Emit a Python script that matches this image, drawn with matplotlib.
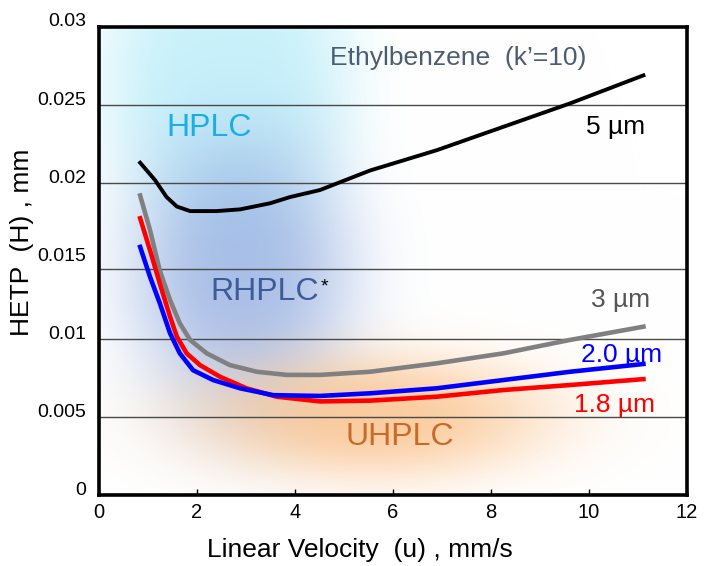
import numpy as np
import matplotlib.pyplot as plt
import matplotlib.transforms as mtransforms

plt.rcParams['font.family'] = ['Liberation Sans', 'DejaVu Sans']

# HETP curves, linear velocity (mm/s) vs plate height (mm)
u_5um = [0.84, 1.14, 1.38, 1.59, 1.86, 2.4, 2.88, 3.49, 3.9, 4.51, 5.53, 6.89, 8.25, 9.61, 11.11]
h_5um = [0.0213, 0.0202, 0.0191, 0.01849, 0.0182, 0.0182, 0.01831, 0.0187, 0.0191,
         0.01955, 0.0208, 0.0221, 0.0236, 0.0251, 0.0269]

u_3um = [0.84, 1.04, 1.24, 1.45, 1.65, 1.86, 2.2, 2.67, 3.22, 3.83, 4.51, 5.53, 6.89,
         8.25, 9.61, 11.11]
h_3um = [0.0192, 0.0170, 0.0144, 0.0125, 0.0110, 0.00994, 0.00908, 0.00833, 0.0079,
         0.0077, 0.0077, 0.0079, 0.00844, 0.00908, 0.00994, 0.01079]

u_2um = [0.84, 1.04, 1.24, 1.45, 1.65, 1.92, 2.33, 2.88, 3.56, 4.51, 5.53, 6.89,
         8.25, 9.61, 11.11]
h_2um = [0.0159, 0.0140, 0.0123, 0.01037, 0.00908, 0.0080, 0.00737, 0.00684, 0.0064,
         0.00635, 0.00652, 0.00684, 0.00737, 0.0079, 0.0084]

u_18um = [0.84, 1.04, 1.24, 1.45, 1.59, 1.79, 2.06, 2.47, 3.01, 3.63, 4.51, 5.53,
          6.89, 8.25, 9.61, 11.11]
h_18um = [0.01774, 0.0157, 0.01357, 0.01143, 0.01015, 0.00908, 0.00833, 0.00758,
          0.00684, 0.0063, 0.0060, 0.00605, 0.0063, 0.00673, 0.00705, 0.00743]

x_ticks = [0, 2, 4, 6, 8, 10, 12]
y_ticks = [0, 0.005, 0.01, 0.015, 0.02, 0.025, 0.03]
y_tick_labels = ['0', '0.005', '0.01', '0.015', '0.02', '0.025', '0.03']
grid_levels = [0.005, 0.01, 0.0145, 0.02, 0.025]

fig = plt.figure(figsize=(7.04, 5.66), dpi=100)
ax = fig.add_axes([0.1406, 0.1254, 0.8353, 0.8269])
ax.set_xlim(0, 12)
ax.set_ylim(0, 0.03)

# soft coloured regions behind the curves
gx = np.linspace(0, 12, 600)
gy = np.linspace(0, 0.03, 500)
X, Y = np.meshgrid(gx, gy)
img = np.ones((len(gy), len(gx), 3))

def blob(cx, cy, sx, sy, p):
    r2 = ((X - cx) / sx) ** 2 + ((Y - cy) / sy) ** 2
    return np.exp(-r2 ** p)

regions = [
    ((2.6, 0.0265, 2.6, 0.0105, 2.0), (195, 240, 250), 0.9),
    ((2.9, 0.0140, 2.3, 0.0090, 1.4), (140, 168, 222), 0.72),
    ((5.6, 0.0050, 3.6, 0.0040, 1.3), (250, 185, 122), 0.72),
]
for (cx, cy, sx, sy, p), col, strength in regions:
    a = (strength * blob(cx, cy, sx, sy, p))[..., None]
    c = np.array(col) / 255.0
    img = img * (1 - a) + c * a

ax.imshow(img, extent=[0, 12, 0, 0.03], origin='lower', aspect='auto', zorder=0,
          interpolation='bilinear')

for lv in grid_levels:
    ax.axhline(lv, color='#4a4a4a', lw=1.0, zorder=1)

ax.plot(u_5um, h_5um, color='black', lw=2.8, zorder=3, solid_joinstyle='round')
ax.plot(u_3um, h_3um, color='#808080', lw=3.3, zorder=3, solid_joinstyle='round')
ax.plot(u_18um, h_18um, color='#ff0000', lw=3.3, zorder=3, solid_joinstyle='round')
ax.plot(u_2um, h_2um, color='#0000ff', lw=3.3, zorder=4, solid_joinstyle='round')

ax.text(7.33, 0.0280, "Ethylbenzene  (k\u2019=10)", color='#4d5d70', fontsize=19,
        ha='center', va='center')
ax.text(10.55, 0.0236, "5 \u00b5m", color='black', fontsize=19, ha='center', va='center')
ax.text(10.65, 0.0125, "3 \u00b5m", color='#555555', fontsize=19, ha='center', va='center')
ax.text(10.67, 0.0090, "2.0 \u00b5m", color='#0000ff', fontsize=19, ha='center', va='center')
ax.text(10.53, 0.0058, "1.8 \u00b5m", color='#ff0000', fontsize=19, ha='center', va='center')
ax.text(2.24, 0.0235, "HPLC", color='#1aaee6', fontsize=23, ha='center', va='center')
ax.text(3.39, 0.0130, "RHPLC", color='#3d5a99', fontsize=23, ha='center', va='center')
ax.text(4.6, 0.01335, "*", color='black', fontsize=14, ha='center', va='center')
ax.text(6.14, 0.0037, "UHPLC", color='#c86a28', fontsize=23, ha='center', va='center')

ax.set_xticks(x_ticks)
ax.set_yticks(y_ticks)
ax.set_yticklabels(y_tick_labels)
ax.tick_params(axis='x', direction='in', length=4, width=1, labelsize=14.5, pad=6)
ax.tick_params(axis='y', direction='in', length=0, labelsize=14, pad=9)
shift = mtransforms.ScaledTranslation(0, 7 / 100, fig.dpi_scale_trans)
for lbl in ax.get_yticklabels():
    lbl.set_transform(lbl.get_transform() + shift)

for sp in ax.spines.values():
    sp.set_linewidth(2.6)
    sp.set_color('black')
    sp.set_zorder(5)

fig.text(360 / 704, 1 - 550 / 566, "Linear Velocity  (u) , mm/s", fontsize=19,
         ha='center', va='center')
fig.text(22 / 704, 1 - 242 / 566, "HETP  (H) , mm", fontsize=19, rotation=90,
         ha='center', va='center')

fig.savefig('out.png', dpi=100)
